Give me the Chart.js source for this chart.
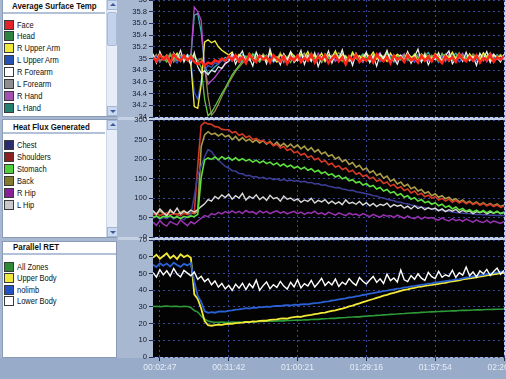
<!DOCTYPE html>
<html><head><meta charset="utf-8">
<script src="https://cdn.jsdelivr.net/npm/chart.js@4.4.1/dist/chart.umd.min.js"></script>
<style>
html,body{margin:0;padding:0;width:506px;height:379px;overflow:hidden;background:#a8b8d0;font-family:"Liberation Sans",Arial,sans-serif;}
#root{position:relative;width:506px;height:379px;overflow:hidden;}
.box{position:absolute;}
.panel{position:absolute;background:#fff;border:1px solid #8a9bb8;box-sizing:border-box;}
.ttl{position:absolute;font-weight:bold;font-size:7.9px;line-height:10px;color:#111;white-space:nowrap;transform:scaleY(1.12);transform-origin:0 50%;}
.sep{position:absolute;height:2px;background:#b3c1d8;}
.item{position:absolute;left:4px;height:11px;font-size:7.5px;line-height:11px;color:#111;white-space:nowrap;}
.sw{position:absolute;left:0;top:0;width:10px;height:10px;border:1px solid #3a3a3a;box-sizing:border-box;}
.lbl{position:absolute;left:13px;top:0;transform:scaleY(1.15);transform-origin:0 50%;}
.sb{position:absolute;width:11px;background:#e8eef8;box-sizing:border-box;border-left:1px solid #cbd6e8;}
.btn{position:absolute;left:0;width:11px;height:10px;background:#cbd9f0;border:1px solid #a2b6d6;box-sizing:border-box;}
.up,.dn{position:absolute;left:2px;width:0;height:0;border-left:3px solid transparent;border-right:3px solid transparent;}
.up{top:2px;border-bottom:3px solid #3b5a96;}
.dn{top:3px;border-top:3px solid #3b5a96;}
.thumb{position:absolute;left:0;width:10px;background:#c4d3ec;border:1px solid #a8bad8;box-sizing:border-box;border-radius:2px;}
canvas{position:absolute;}
</style></head><body><div id="root">
<div class="box" style="left:118px;top:117px;width:388px;height:3px;background:#c4d0e3"></div>
<div class="box" style="left:118px;top:237px;width:388px;height:3px;background:#c4d0e3"></div>
<div class="box" style="left:504px;top:0;width:2px;height:358px;background:#c4d0e3"></div>
<div class="box" style="left:0;top:358px;width:506px;height:21px;background:#98abc8"></div>

<div class="panel" style="left:2px;top:-1px;width:115px;height:118px"></div>
<div class="panel" style="left:2px;top:119px;width:115px;height:119px"></div>
<div class="panel" style="left:2px;top:241px;width:115px;height:117px"></div>

<div class="sb" style="left:106px;top:0;height:116px">
  <div class="btn" style="top:0"><div class="up"></div></div>
  <div class="thumb" style="top:12px;height:34px"></div>
  <div class="btn" style="top:106px"><div class="dn"></div></div>
</div>
<div class="sb" style="left:106px;top:120px;height:117px">
  <div class="btn" style="top:0"><div class="up"></div></div>
  <div class="btn" style="top:107px"><div class="dn"></div></div>
</div>

<div class="ttl" style="left:12px;top:2px">Average Surface Temp</div>
<div class="sep" style="left:3px;top:12px;width:102px"></div>
<div class="ttl" style="left:13px;top:123px">Heat Flux Generated</div>
<div class="sep" style="left:3px;top:132px;width:102px"></div>
<div class="ttl" style="left:13px;top:243px">Parallel RET</div>
<div class="sep" style="left:3px;top:253px;width:113px"></div>

<canvas id="c1" width="420" height="137" style="left:118px;top:-10px"></canvas>
<canvas id="c2" width="420" height="137" style="left:118px;top:110px"></canvas>
<canvas id="c3" width="420" height="149" style="left:118px;top:230px"></canvas>
</div>
<script>
// ---------- tick labels ----------
const timeLabels = ['00:02:47','00:31:42','01:00:21','01:29:16','01:57:54','02:26:41'];
const timeTickIndex = [2,22,42,62,82,102];
const tempTicks = [34,34.2,34.4,34.6,34.8,35,35.2,35.4,35.6,35.8,36];
const fluxTicks = [0,50,100,150,200,250,300];
const retTicks = [0,10,20,30,40,50,60,70];

// ---------- categories ----------
const tempNames = ['Face','Head','R Upper Arm','L Upper Arm','R Forearm','L Forearm','R Hand','L Hand'];
const fluxNames = ['Chest','Shoulders','Stomach','Back','R Hip','L Hip'];
const retNames = ['All Zones','Upper Body','nolimb','Lower Body'];

// ---------- Average Surface Temp (deg C) ----------
const face = [35.02,34.95,35.06,34.98,35.04,34.93,35.07,35.00,34.96,35.05,34.97,35.03,
34.94,34.90,34.95,34.88,34.93,34.91,34.97,34.94,35.00,34.96,
35.04,34.97,35.06,34.95,35.02,34.92,35.07,34.99,34.94,35.05,
34.98,35.03,34.93,35.06,35.00,34.95,35.04,34.91,35.02,34.97,
35.05,34.94,35.01,34.96,35.07,34.93,35.03,34.98,35.06,34.92,
35.00,35.05,34.95,35.02,34.90,35.04,34.97,35.06,34.94,35.01,
34.96,35.04,34.93,35.07,34.99,34.95,35.03,34.92,35.05,34.98,
35.02,34.94,35.06,34.97,35.01,34.93,35.05,34.96,35.03,34.95,
35.06,34.98,34.92,35.04,34.97,35.02,34.94,35.07,34.99,34.95,
35.03,34.96,35.05,34.93,35.01,34.97,35.06,34.94,35.02,34.98,35.04];
const head = [35.05,34.97,35.09,35.01,34.94,35.06,34.99,35.08,34.95,35.03,34.98,35.07,
35.02,34.96,34.85,34.30,34.02,34.08,34.18,34.29,34.40,34.50,
34.61,34.72,34.80,34.88,34.96,35.04,34.97,35.08,35.00,34.94,
35.06,34.99,35.10,34.95,35.03,34.97,35.08,35.01,34.93,35.05,
34.98,35.07,35.02,34.96,35.09,34.99,35.04,34.94,35.06,35.00,
34.97,35.08,35.03,34.95,35.05,34.98,35.11,35.00,34.96,35.06,
35.02,34.94,35.07,34.99,35.04,34.97,35.09,35.01,34.95,35.05,
34.98,35.06,35.00,34.93,35.08,35.02,34.96,35.07,34.99,35.04,
35.01,34.95,35.09,34.98,35.05,34.97,35.03,35.10,34.96,35.02,
35.06,34.99,35.04,34.94,35.08,35.00,34.97,35.05,35.02,34.96,35.07];
const rUpperArm = [35.04,34.96,35.08,34.99,35.06,34.93,35.02,35.09,34.97,35.05,35.00,34.90,
34.18,34.15,34.55,35.28,35.32,35.27,35.30,35.20,35.14,35.10,
35.06,35.11,34.98,35.07,35.02,34.95,35.09,35.01,34.96,35.06,
35.03,34.97,35.10,35.00,34.94,35.07,35.02,34.98,35.11,35.04,
34.96,35.08,35.01,35.12,34.97,35.05,35.00,35.09,34.95,35.06,
35.02,35.13,34.98,35.07,35.03,34.96,35.10,35.01,35.05,34.97,
35.08,35.02,35.11,34.99,35.06,35.03,34.95,35.09,35.00,35.07,
35.04,34.97,35.10,35.02,35.06,34.96,35.08,35.01,35.05,34.98,
35.09,35.03,34.97,35.07,35.01,35.11,34.99,35.05,35.02,34.96,
35.08,35.00,35.06,34.98,35.10,35.03,34.97,35.07,35.01,35.05,34.99];
const lUpperArm = [34.98,35.04,34.93,35.01,34.96,35.06,34.99,34.92,35.03,34.97,35.05,34.95,
34.42,34.30,34.62,34.80,34.88,34.85,34.93,34.90,34.97,34.94,
35.01,34.95,35.04,34.98,34.92,35.03,34.96,35.06,34.99,34.94,
35.02,34.97,35.05,34.93,35.00,34.96,35.04,34.91,35.02,34.98,
35.05,34.95,35.01,34.97,35.06,34.93,35.03,34.99,34.94,35.04,
34.98,35.02,34.95,35.06,34.97,35.01,34.93,35.04,35.00,34.96,
35.03,34.94,35.05,34.99,34.95,35.02,34.97,35.06,34.93,35.01,
34.98,35.04,34.96,35.00,34.94,35.05,34.99,34.95,35.03,34.97,
35.02,34.93,35.05,34.98,35.01,34.96,35.04,34.94,35.00,35.06,
34.97,35.03,34.95,35.01,34.98,35.05,34.94,35.02,34.99,34.96,35.04];
const rForearm = [35.08,34.92,35.12,34.97,35.03,34.88,35.10,34.99,35.14,34.94,35.06,34.90,
35.10,34.86,34.75,34.79,34.72,34.80,34.77,34.86,34.83,34.92,
34.95,35.09,34.90,35.04,35.13,34.93,35.01,34.87,35.11,34.98,
35.05,34.91,35.16,34.96,35.02,34.89,35.08,34.97,35.12,34.93,
35.00,35.14,34.90,35.06,34.95,35.10,34.86,35.03,34.98,35.13,
34.92,35.07,34.99,35.15,34.94,35.04,34.88,35.09,34.97,35.02,
35.11,34.93,35.05,34.87,35.08,34.99,35.14,34.95,35.01,34.90,
35.06,34.97,35.12,34.92,35.03,35.16,34.94,35.07,34.89,35.02,
34.98,35.10,34.93,35.05,35.13,34.91,35.00,35.08,34.95,35.11,
34.96,35.04,34.88,35.09,34.99,35.12,34.93,35.06,35.01,34.94,35.07];
const lForearm = [35.01,35.07,34.95,35.04,34.98,35.09,34.94,35.02,35.06,34.97,35.03,34.99,
35.05,34.96,35.00,34.88,34.35,34.03,34.10,34.22,34.35,34.47,
34.58,34.68,34.78,34.85,34.92,35.00,35.06,34.97,35.04,34.95,
35.08,35.01,34.96,35.05,34.99,35.10,34.94,35.03,35.07,34.98,
35.02,34.95,35.09,35.00,34.97,35.06,35.03,34.93,35.08,35.01,
34.96,35.04,35.10,34.98,35.02,34.95,35.07,35.00,35.05,34.97,
35.09,35.02,34.96,35.06,34.99,35.04,35.11,34.95,35.03,35.07,
34.98,35.05,35.01,34.94,35.08,35.03,34.97,35.10,35.00,35.06,
35.02,34.96,35.07,35.04,34.99,35.09,34.95,35.03,35.06,35.00,
34.97,35.08,35.02,35.05,34.96,35.04,35.10,34.99,35.03,35.07,35.01];
const rHand = [34.99,35.05,34.96,35.03,34.98,35.07,34.94,35.02,34.97,35.06,35.00,35.04,
35.88,35.80,35.65,34.82,34.56,34.62,34.68,34.76,34.83,34.90,
34.95,35.03,34.98,35.06,34.94,35.02,34.99,35.07,34.96,35.01,
35.04,34.97,35.08,34.95,35.01,35.06,34.93,35.03,34.98,35.05,
34.96,35.02,35.07,34.99,35.04,34.94,35.09,35.00,34.97,35.03,
35.06,34.95,35.01,35.08,34.98,35.03,34.96,35.05,35.00,34.93,
35.07,35.01,34.97,35.04,35.10,34.96,35.02,34.99,35.06,34.95,
35.03,35.08,34.98,35.01,34.94,35.05,35.00,35.07,34.96,35.02,
34.99,35.06,35.03,34.95,35.08,35.01,34.97,35.04,35.09,34.98,
35.02,34.96,35.07,35.00,35.05,34.94,35.03,35.08,34.99,35.04,34.97];
const lHand = [35.03,34.97,35.06,35.00,34.95,35.08,35.01,34.96,35.04,34.99,35.07,35.02,
35.74,35.77,35.45,34.88,34.74,34.80,34.86,34.91,34.97,35.02,
34.98,35.05,35.00,34.94,35.07,35.02,34.97,35.04,35.09,34.99,
35.01,35.06,34.95,35.03,34.98,35.08,35.00,34.96,35.05,35.02,
34.97,35.04,35.09,35.01,34.95,35.06,35.02,34.98,35.07,35.00,
35.03,34.96,35.05,35.10,34.99,35.02,34.94,35.06,35.01,35.08,
34.97,35.04,35.00,35.07,34.95,35.03,35.09,34.98,35.02,35.05,
35.01,34.96,35.08,35.03,34.99,35.06,34.94,35.04,35.10,35.00,
35.05,34.98,35.02,35.07,34.95,35.03,35.09,35.01,34.97,35.06,
35.00,35.04,34.98,35.08,35.02,34.96,35.05,35.01,35.07,34.99,35.03];

// ---------- Heat Flux Generated ----------
const chest = [48,52,45,50,47,53,46,51,49,44,52,58,
105,158,182,206,224,219,207,197,189,181,
177,170,169,163,162,157,158,154,155,151,
153,149,151,147,149,145,148,144,146,143,
145,141,143,139,140,136,137,133,134,130,
129,126,127,123,122,119,120,116,115,113,
111,109,106,105,101,100,97,95,93,90,
89,86,85,82,81,78,77,75,74,72,
71,69,68,66,66,64,63,62,61,60,
60,59,58,58,57,57,56,56,55,56,55];
const shoulders = [57,61,55,59,62,56,60,58,54,61,57,59,
63,182,286,294,290,289,283,282,276,275,
275,267,270,261,264,255,259,250,253,246,
248,240,243,234,238,228,232,222,226,216,
219,210,214,204,208,198,202,192,196,185,
189,179,183,173,177,167,171,161,165,155,
159,149,153,143,147,137,141,131,135,125,
129,119,123,113,118,108,112,103,107,99,
104,95,99,92,97,89,94,87,92,85,
90,83,88,81,86,80,84,78,82,76,79];
const stomach = [50,54,48,53,51,55,49,52,47,53,50,54,
52,58,152,197,203,199,205,198,206,200,
204,197,203,196,201,195,199,192,197,190,
195,188,192,185,190,182,187,180,184,177,
181,174,179,171,175,167,171,163,167,159,
162,154,158,149,153,144,147,139,142,133,
137,129,132,123,127,118,122,113,116,107,
111,102,106,97,101,92,96,88,91,84,
88,80,84,76,80,72,77,69,73,66,
70,64,69,63,68,62,67,61,66,60,64];
const back = [64,58,67,60,55,66,61,57,63,68,59,62,
60,66,232,262,270,263,266,259,265,257,
261,250,258,247,255,246,251,243,249,241,
247,238,245,235,243,233,240,231,238,229,
236,226,233,222,229,218,224,213,218,207,
211,200,205,193,198,186,191,179,184,172,
177,165,170,158,163,151,156,143,148,136,
141,130,135,124,128,118,122,112,116,106,
111,102,106,98,102,94,98,90,95,87,
92,85,90,83,88,81,86,80,85,78,82];
const rHip = [38,30,42,33,28,40,35,31,44,36,29,39,
34,41,48,55,52,60,57,63,59,65,
61,67,62,66,60,68,63,65,59,67,
62,66,60,64,67,61,65,59,63,66,
60,64,58,63,61,66,59,62,57,64,
60,56,62,58,55,61,57,59,54,60,
56,52,58,54,51,57,53,55,50,56,
52,48,54,49,47,53,46,51,48,50,
46,43,49,44,41,47,42,45,40,46,
42,38,44,39,37,43,36,41,38,35,40];
const lHip = [68,58,72,63,55,70,61,74,59,66,62,69,
64,70,78,85,96,92,104,98,108,101,
110,97,106,100,112,95,104,99,108,96,
103,94,107,98,101,92,105,97,100,93,
98,89,95,91,99,87,94,90,96,86,
92,85,90,83,95,86,89,84,91,82,
88,80,86,78,84,81,87,77,83,79,
82,74,79,72,80,73,77,70,75,71,
74,67,72,65,70,66,71,63,68,64,
67,60,65,62,66,59,64,61,65,60,63];

// ---------- Parallel RET ----------
const allZones = [30.2,30.4,30.1,30.3,30.5,30.2,30.4,30.3,30.1,30.4,30.2,29.6,
27.8,26.9,24.5,22.6,
21.5,21.0,20.8,20.7,20.9,20.8,20.6,20.9,20.8,20.9,
20.8,21.0,21.1,20.9,21.2,21.3,21.2,21.4,21.5,21.4,
21.6,21.7,21.6,21.9,21.8,22.0,22.1,22.0,22.3,22.2,
22.4,22.6,22.5,22.8,22.9,23.0,23.2,23.1,23.4,23.5,
23.6,23.8,23.9,24.1,24.0,24.3,24.4,24.6,24.7,24.9,
25.0,25.2,25.3,25.5,25.6,25.7,25.9,26.0,26.2,26.3,
26.4,26.5,26.7,26.8,26.9,27.0,27.1,27.2,27.3,27.4,
27.5,27.6,27.6,27.8,27.9,27.9,28.0,28.1,28.2,28.2,
28.3,28.4,28.4,28.5,28.6,28.6,28.7];
const upperBody = [59.5,61.2,58.8,60.4,62.0,59.1,60.7,58.6,61.5,59.8,60.9,59.4,
37.5,34.8,29.0,21.5,
19.0,18.7,19.1,19.4,19.2,19.7,19.9,19.8,20.3,20.4,
20.6,21.0,20.9,21.3,21.2,21.6,21.8,21.7,22.2,22.4,
22.5,22.9,23.1,23.0,23.5,23.8,24.1,24.0,24.6,24.9,
25.2,25.6,25.9,26.4,26.6,27.1,27.6,27.9,28.5,29.0,
29.6,30.3,30.8,31.5,32.1,32.8,33.4,34.1,34.7,35.4,
36.0,36.7,37.2,37.9,38.4,39.0,39.6,40.1,40.5,41.0,
41.4,41.9,42.1,42.6,42.8,43.1,43.5,43.7,44.2,44.4,
44.9,45.2,45.6,45.9,46.4,46.7,47.0,47.4,47.6,48.1,
48.4,48.8,49.1,49.5,49.8,50.2,50.4];
const nolimb = [55.2,53.8,56.1,54.6,55.9,54.1,56.4,55.0,53.9,55.7,54.8,56.2,
45.0,36.5,33.0,27.5,
26.4,26.8,26.5,27.1,27.3,27.2,27.8,27.9,28.3,28.5,
28.8,29.2,29.0,29.5,29.4,29.8,29.9,30.1,30.0,30.4,
30.6,30.5,30.9,31.0,30.8,31.3,31.1,31.4,31.6,31.5,
31.9,32.2,32.4,32.7,33.1,33.3,33.8,34.0,34.5,34.8,
35.1,35.6,35.8,36.3,36.6,37.1,37.4,37.9,38.2,38.7,
39.0,39.5,39.7,40.2,40.4,40.9,41.1,41.6,41.8,42.2,
42.5,42.9,43.2,43.4,43.9,44.1,44.6,44.8,45.1,45.4,
45.7,46.0,46.4,46.6,47.1,47.5,47.8,48.2,48.4,48.9,
49.2,49.6,49.9,50.3,50.6,51.0,51.2];
const lowerBody = [50.5,47.8,52.3,49.1,51.6,48.4,53.0,49.7,47.9,51.8,50.2,48.6,
50.9,46.5,48.3,45.1,
46.8,43.2,45.5,41.8,44.0,40.7,42.9,39.8,43.6,41.2,
44.1,40.3,43.8,41.5,46.0,39.9,42.7,44.9,40.8,43.3,
41.6,45.2,42.4,40.6,44.7,42.0,46.3,41.3,43.9,42.5,
45.8,41.9,44.3,47.1,42.8,45.0,43.1,46.6,42.2,44.8,
43.4,46.9,44.5,42.9,47.5,45.3,43.7,46.1,48.2,44.6,
46.8,44.0,49.5,45.7,47.3,44.9,52.0,46.2,45.1,48.7,
46.5,49.8,47.2,45.8,50.6,48.1,46.9,51.3,47.7,49.2,
48.3,51.9,47.6,50.4,49.0,53.8,48.6,50.9,47.9,51.5,
49.8,52.4,48.7,51.1,53.2,49.5,51.7];

// ---------- styles ----------
const tempSwatch = ['#e3232b','#2f8240','#efe83a','#2451b2','#ffffff','#8e8e8e','#a450b0','#22806f'];
const tempLine   = ['#ff2418','#62c642','#f2ee3c','#3455d0','#f2f2f2','#948848','#b646c8','#3ab2b0'];
const tempWidth  = [2.4,1.3,1.3,1.3,1.2,1.3,1.3,1.3];
const tempOrder  = [0,3,2,5,1,4,6,7];
const fluxSwatch = ['#2b2c6e','#8b1f22','#4fcf3a','#847a2e','#8a1f9a','#c8c8c8'];
const fluxLine   = ['#3d3e98','#d53a26','#5ee23e','#aa9c48','#9a32b4','#dadada'];
const fluxOrder  = [3,4,0,5,2,1];
const retSwatch  = ['#2f8a34','#efe83a','#2353c2','#ffffff'];
const retLine    = ['#2c9a38','#f2ea36','#2a62d6','#ffffff'];
const retOrder   = [3,2,1,0];

const root = document.getElementById('root');
function legend(names, colors, y0, step){
  names.forEach((n,i)=>{
    const d=document.createElement('div');
    d.className='item';
    d.style.top=(y0+i*step-5.5)+'px';
    d.innerHTML='<span class="sw" style="background:'+colors[i]+'"></span><span class="lbl">'+n+'</span>';
    root.appendChild(d);
  });
}
legend(tempNames,tempSwatch,25,11.9);
legend(fluxNames,fluxSwatch,145.7,11.9);
legend(retNames,retSwatch,267.3,11.5);

const N = face.length;
const idx = Array.from({length:N},(_,i)=>i);
const plotBg = {id:'plotBg',beforeDraw(c){const a=c.chartArea,x=c.ctx;x.save();x.fillStyle='#030303';x.fillRect(a.left,a.top,a.right-a.left,a.bottom-a.top);x.restore();}};
const GRID = '#3a4799';

function makeChart(id, names, series, colors, widths, orders, yTicks, yFmt, showX){
  return new Chart(document.getElementById(id),{
    type:'line',
    data:{labels:idx,datasets:series.map((s,i)=>({label:names[i],data:s,borderColor:colors[i],borderWidth:widths[i],order:orders[i],pointRadius:0,tension:0,fill:false}))},
    options:{
      responsive:false,animation:false,devicePixelRatio:1,
      layout:{padding:{left:0,right:34,top:10,bottom:showX?2:10}},
      plugins:{legend:{display:false},tooltip:{enabled:false}},
      scales:{
        x:{type:'linear',min:0,max:N-1,
          afterBuildTicks:s=>{s.ticks=timeTickIndex.map(v=>({value:v}));},
          afterFit:s=>{s.paddingLeft=0;s.paddingRight=0;s.height=showX?20:0;},
          grid:{color:GRID,lineWidth:1,drawTicks:showX,tickLength:4,tickColor:'#25304e'},
          border:{display:false,dash:[2,3]},
          ticks:{display:showX,autoSkip:false,maxRotation:0,padding:2,color:'#e6ecf6',font:{family:'Liberation Sans',size:8.5},
            callback:v=>timeLabels[timeTickIndex.indexOf(v)]}
        },
        y:{min:yTicks[0],max:yTicks[yTicks.length-1],
          afterBuildTicks:s=>{s.ticks=yTicks.map(v=>({value:v}));},
          afterFit:s=>{s.width=35;s.paddingTop=0;s.paddingBottom=0;},
          grid:{color:GRID,lineWidth:1,drawTicks:true,tickLength:4,tickColor:'#25304e'},
          border:{display:false,dash:[2,3]},
          ticks:{autoSkip:false,padding:2,color:'#161a28',font:{family:'Liberation Sans',size:7.6},callback:yFmt}
        }
      }
    },
    plugins:[plotBg]
  });
}

makeChart('c1',tempNames,[face,head,rUpperArm,lUpperArm,rForearm,lForearm,rHand,lHand],tempLine,tempWidth,tempOrder,tempTicks,v=>String(Math.round(v*10)/10),false);
makeChart('c2',fluxNames,[chest,shoulders,stomach,back,rHip,lHip],fluxLine,[1.5,1.6,1.6,1.6,1.5,1.4],fluxOrder,fluxTicks,v=>String(v),false);
makeChart('c3',retNames,[allZones,upperBody,nolimb,lowerBody],retLine,[1.6,1.8,1.8,1.4],retOrder,retTicks,v=>String(v),true);
</script>
</body></html>
